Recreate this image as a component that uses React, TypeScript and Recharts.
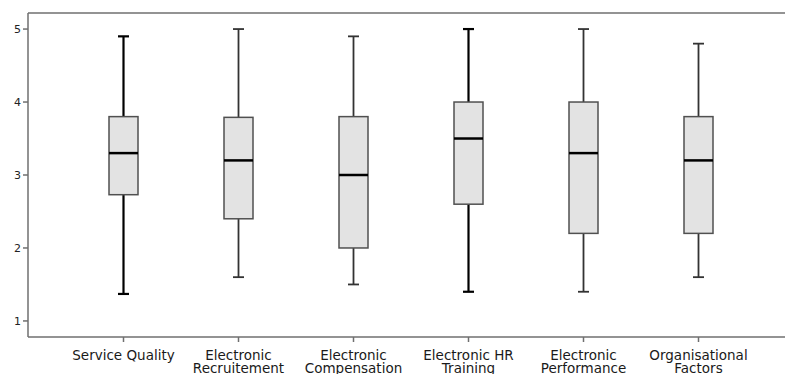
import React from 'react';
import { BarChart, Bar, XAxis, YAxis } from 'recharts';

// Box-plot summary values
const CATEGORIES = [
  'Service Quality',
  'Electronic\nRecruitement',
  'Electronic\nCompensation',
  'Electronic HR\nTraining',
  'Electronic\nPerformance',
  'Organisational\nFactors',
];
const MINS = [1.37, 1.6, 1.5, 1.4, 1.4, 1.6];
const Q1S = [2.73, 2.4, 2.0, 2.6, 2.2, 2.2];
const MEDIANS = [3.3, 3.2, 3.0, 3.5, 3.3, 3.2];
const Q3S = [3.8, 3.79, 3.8, 4.0, 4.0, 3.8];
const MAXS = [4.9, 5.0, 4.9, 5.0, 5.0, 4.8];
const Y_TICKS = [1, 2, 3, 4, 5];
const Y_MIN = 0.78;
const Y_MAX = 5.22;

const data = CATEGORIES.map((name, i) => ({
  name,
  range: [MINS[i], MAXS[i]],
  q1: Q1S[i],
  median: MEDIANS[i],
  q3: Q3S[i],
}));

// these two are drawn with heavier black whiskers in the original
const BOLD_WHISKERS = new Set([0, 3]);
const FONT = '"DejaVu Sans", Verdana, sans-serif';
const AXIS_GREY = '#6f6f6f';

const BoxShape = (props: any) => {
  const { x, y, width, height, payload, index } = props;
  const top = Math.min(y, y + height);
  const bottom = Math.max(y, y + height);
  const [lo, hi] = payload.range;
  const pix = (v: number) => top + ((hi - v) / (hi - lo)) * (bottom - top);
  const cx = x + width / 2;
  const bold = BOLD_WHISKERS.has(index);
  const wStroke = bold ? '#000' : '#333';
  const wWidth = bold ? 2.2 : 1.8;
  const cap = 5.5;
  const yQ1 = pix(payload.q1);
  const yQ3 = pix(payload.q3);
  const yMed = pix(payload.median);
  return (
    <g>
      <line x1={cx} x2={cx} y1={top} y2={yQ3} stroke={wStroke} strokeWidth={wWidth} />
      <line x1={cx} x2={cx} y1={yQ1} y2={bottom} stroke={wStroke} strokeWidth={wWidth} />
      <line x1={cx - cap} x2={cx + cap} y1={top} y2={top} stroke={wStroke} strokeWidth={wWidth} />
      <line x1={cx - cap} x2={cx + cap} y1={bottom} y2={bottom} stroke={wStroke} strokeWidth={wWidth} />
      <rect x={x} y={yQ3} width={width} height={yQ1 - yQ3} fill="#e3e3e3" stroke="#505050" strokeWidth={1.5} />
      <line x1={x} x2={x + width} y1={yMed} y2={yMed} stroke="#000" strokeWidth={2.5} />
    </g>
  );
};

const CategoryTick = ({ x, y, payload }: any) => {
  const lines = String(payload.value).split('\n');
  return (
    <text x={x} y={y} textAnchor="middle" fill="#1a1a1a" fontSize={13.5} fontFamily={FONT}>
      {lines.map((l, i) => (
        <tspan key={i} x={x} dy={i === 0 ? 16 : 13}>
          {l}
        </tspan>
      ))}
    </text>
  );
};

export default function App() {
  return (
    <div style={{ position: 'absolute', left: 0, top: 0, background: '#fff' }}>
      <BarChart
        width={785}
        height={374}
        data={data}
        margin={{ top: 12, right: 0, left: 0, bottom: 0 }}
        barSize={29}
      >
        <XAxis
          dataKey="name"
          interval={0}
          height={37}
          padding={{ left: 38, right: 29 }}
          axisLine={{ stroke: AXIS_GREY, strokeWidth: 1.5 }}
          tickLine={{ stroke: AXIS_GREY, strokeWidth: 1.5 }}
          tickSize={5}
          tick={<CategoryTick />}
        />
        {/* top frame line */}
        <XAxis
          xAxisId="top"
          orientation="top"
          dataKey="name"
          height={1}
          tick={false}
          tickLine={false}
          axisLine={{ stroke: AXIS_GREY, strokeWidth: 1.5 }}
        />
        <YAxis
          type="number"
          width={28}
          domain={[Y_MIN, Y_MAX]}
          ticks={Y_TICKS}
          allowDataOverflow
          axisLine={{ stroke: AXIS_GREY, strokeWidth: 1.5 }}
          tickLine={{ stroke: AXIS_GREY, strokeWidth: 1.5 }}
          tickSize={5}
          tick={{ fontSize: 11, fill: '#222', fontFamily: FONT }}
        />
        <Bar dataKey="range" shape={<BoxShape />} isAnimationActive={false} />
      </BarChart>
    </div>
  );
}
